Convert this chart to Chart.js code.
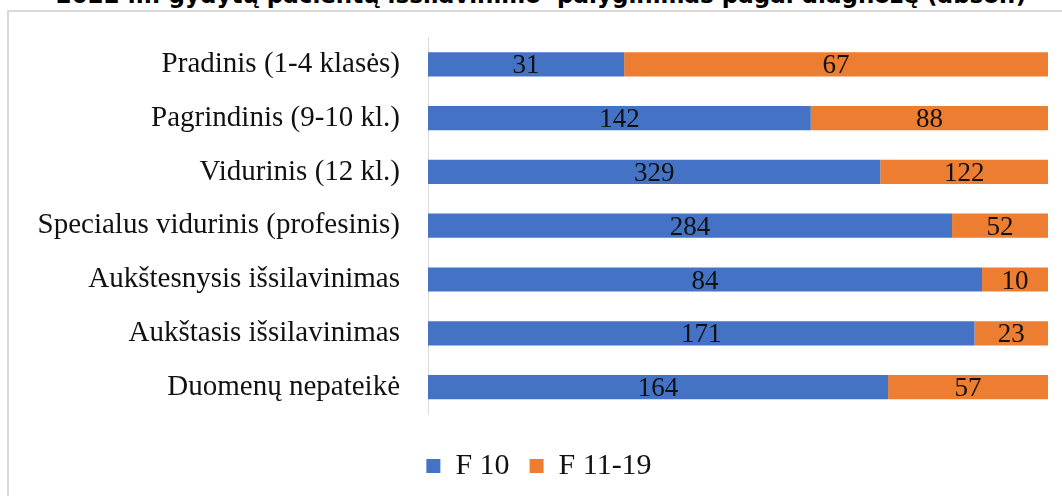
<!DOCTYPE html>
<html>
<head>
<meta charset="utf-8">
<script src="https://cdn.jsdelivr.net/npm/chart.js@4.4.1/dist/chart.umd.min.js"></script>
<style>
  html, body { margin: 0; padding: 0; background: #fff; overflow: hidden; }
  #wrap { position: relative; width: 1062px; height: 496px; overflow: hidden; }
  #frame { position: absolute; left: 7px; top: 10px; width: 1100px; height: 600px;
           border: 2px solid #d9d9d9; box-sizing: border-box; }
  #title { position: absolute; left: 0; width: 1082px; top: -18px; text-align: center;
           font: bold 23px 'DejaVu Sans', sans-serif; color: #000; white-space: pre; }
  canvas { position: absolute; left: 0; top: 0; }
</style>
</head>
<body>
<div id="wrap">
  <div id="frame"></div>
  <div id="title">2022 m. gydytų pacientų išsilavinimo  palyginimas pagal diagnozę (absol.)</div>
  <canvas id="c" width="1062" height="496"></canvas>
</div>
<script>
// 100% stacked bars, counts shown inside each segment
const categories = [
  'Pradinis (1-4 klasės)',
  'Pagrindinis (9-10 kl.)',
  'Vidurinis (12 kl.)',
  'Specialus vidurinis (profesinis)',
  'Aukštesnysis išsilavinimas',
  'Aukštasis išsilavinimas',
  'Duomenų nepateikė',
];
const f10 = [31, 142, 329, 284, 84, 171, 164];
const f1119 = [67, 88, 122, 52, 10, 23, 57];
const seriesNames = ['F 10', 'F 11-19'];

const FONT = "'Liberation Serif', 'Times New Roman', serif";
const INK = '#111';
const BLUE = '#4472C4', ORANGE = '#ED7D31';

const totals = f10.map((v, i) => v + f1119[i]);
const share = (arr) => arr.map((v, i) => (v / totals[i]) * 100);

const valueLabels = {
  id: 'valueLabels',
  afterDatasetsDraw(chart) {
    const ctx = chart.ctx;
    ctx.save();
    ctx.font = `27px ${FONT}`;
    ctx.fillStyle = INK;
    ctx.textAlign = 'center';
    ctx.textBaseline = 'middle';
    chart.data.datasets.forEach((ds, di) => {
      chart.getDatasetMeta(di).data.forEach((bar, i) => {
        ctx.fillText(String(ds.counts[i]), (bar.x + bar.base) / 2, bar.y + 2);
      });
    });
    ctx.restore();
  },
};

new Chart(document.getElementById('c'), {
  type: 'bar',
  data: {
    labels: categories,
    datasets: [
      { label: seriesNames[0], data: share(f10), counts: f10, backgroundColor: BLUE },
      { label: seriesNames[1], data: share(f1119), counts: f1119, backgroundColor: ORANGE },
    ],
  },
  options: {
    indexAxis: 'y',
    responsive: false,
    animation: false,
    datasets: { bar: { categoryPercentage: 1, barPercentage: 0.45 } },
    // left padding nudges the centred legend right; y axis width makes up the rest
    layout: { padding: { top: 31, right: 14, bottom: 5, left: 30 } },
    plugins: {
      tooltip: { enabled: false },
      legend: {
        position: 'bottom',
        labels: { font: { family: FONT, size: 30 }, color: INK, boxWidth: 14, boxHeight: 14, padding: 20 },
      },
    },
    scales: {
      x: {
        stacked: true, min: 0, max: 100,
        grid: { display: false }, border: { display: false }, ticks: { display: false },
        afterFit: (s) => { s.height = 17; },
      },
      y: {
        stacked: true,
        grid: { display: false },
        border: { color: '#d9d9d9', width: 1 },
        ticks: { font: { family: FONT, size: 29 }, color: INK, padding: 20 },
        afterFit: (s) => { s.width = 398; },
      },
    },
  },
  plugins: [valueLabels],
});
</script>
</body>
</html>
